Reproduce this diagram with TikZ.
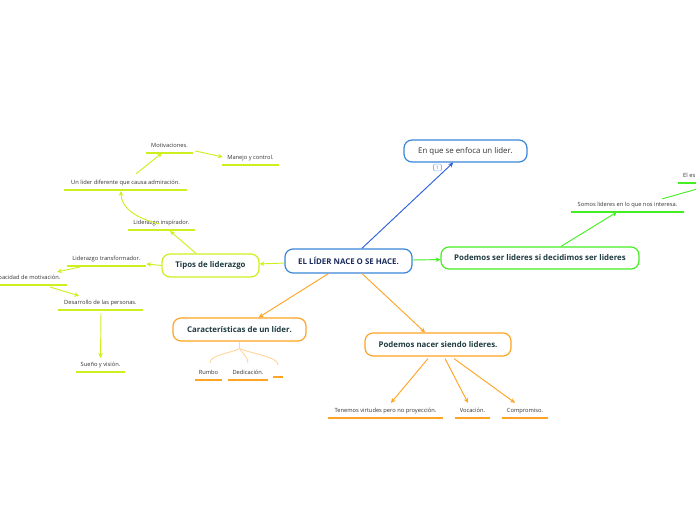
\documentclass[tikz,border=0pt]{standalone}
\usepackage{fontspec}
\setmainfont{Open Sans}
\usetikzlibrary{arrows.meta,calc}
\definecolor{cblue}{HTML}{3A86D8}
\definecolor{cbluearrow}{HTML}{2A5FE0}
\definecolor{cbluelight}{HTML}{8DB8EC}
\definecolor{cgreen}{HTML}{44EE22}
\definecolor{cyellow}{HTML}{CCF01E}
\definecolor{corange}{HTML}{FFA424}
\definecolor{clightorange}{HTML}{FFD69E}
\definecolor{boxtext}{HTML}{1E3B40}
\definecolor{navytext}{HTML}{1B2C5C}
\definecolor{leaftext}{HTML}{333333}
\begin{document}
\begin{tikzpicture}[x=0.75pt,y=-0.75pt,
  box/.style={draw=#1, rounded corners=6pt, line width=0.9pt, fill=white, inner sep=0pt,
    font=\fontsize{5.9}{6.5}\selectfont\bfseries, text=boxtext},
  leaf/.style={anchor=south, inner xsep=0pt, inner ysep=3pt, text height=3.3pt, text depth=0.9pt,
    font=\fontsize{4.3}{5}\selectfont, text=leaftext,
    append after command={(\tikzlastnode.south west) edge[draw=#1, line width=1.1pt] (\tikzlastnode.south east)}},
  conn/.style={draw=#1, line width=0.7pt, -{Stealth[length=3.6pt,width=3.4pt]}},
  plainconn/.style={draw=#1, line width=0.7pt},
  branch/.style={draw=clightorange, line width=0.7pt},
]
\useasboundingbox (0,0) rectangle (696,520);

% main boxes
\node[box=cblue, text=navytext, minimum width=95.25pt, minimum height=18pt] (central) at (348.5,261) {EL LÍDER NACE O SE HACE.};
\node[box=cblue, font=\fontsize{5.9}{6.5}\selectfont, text=leaftext, minimum width=92.25pt, minimum height=16.5pt] (enfoca) at (465.5,151) {En que se enfoca un lider.};
\node[draw=cbluelight, rounded corners=1pt, inner sep=0.5pt, minimum width=6pt, minimum height=5.2pt, font=\fontsize{3.5}{4}\selectfont, text=cblue] (badge) at (437.5,167.5) {1};
\node[box=cgreen, minimum width=148.5pt, minimum height=16.5pt] (podemos) at (540,258) {Podemos ser lideres si decidimos ser lideres};
\node[box=cyellow, minimum width=72.75pt, minimum height=17.25pt] (tipos) at (210.5,265.5) {Tipos de liderazgo};
\node[box=corange, minimum width=99.75pt, minimum height=17.25pt] (caract) at (239.5,329.5) {Características de un líder.};
\node[box=corange, minimum width=109.5pt, minimum height=17.25pt] (nacer) at (438,344.5) {Podemos nacer siendo lideres.};

% leaves
\node[leaf=cyellow, minimum width=35.25pt] (motiv) at (169.5,153) {Motivaciones.};
\node[leaf=cyellow, minimum width=42.75pt] (manejo) at (250.5,165) {Manejo y control.};
\node[leaf=cyellow, minimum width=92.25pt] (unlider) at (125.5,190) {Un lider diferente que causa admiración.};
\node[leaf=cyellow, minimum width=50.25pt] (insp) at (161.5,230) {Liderazgo inspirador.};
\node[leaf=cyellow, minimum width=59.25pt] (trans) at (106.5,266) {Liderazgo transformador.};
\node[leaf=cyellow, minimum width=61.5pt] (capac) at (26,285) {Capacidad de motivación.};
\node[leaf=cyellow, minimum width=63.75pt] (desar) at (100.5,310) {Desarrollo de las personas.};
\node[leaf=cyellow, minimum width=36.75pt] (sueno) at (100.5,372) {Sueño y visión.};
\node[leaf=cgreen, minimum width=84.75pt] (somos) at (627.5,212) {Somos lideres en lo que nos interesa.};
\node[leaf=cgreen, anchor=south west, minimum width=16.5pt, inner xsep=3pt, align=left] (eles) at (678,183) {El es};
\node[leaf=corange, minimum width=20.25pt] (rumbo) at (208.5,380) {Rumbo};
\node[leaf=corange, minimum width=30pt] (dedic) at (248,380) {Dedicación.};
\node[leaf=corange, minimum width=7.5pt] (vacio) at (278,377) {};
\node[leaf=corange, minimum width=86.25pt] (tenemos) at (385.5,418) {Tenemos virtudes pero no proyección.};
\node[leaf=corange, minimum width=26.25pt] (vocac) at (472.5,418) {Vocación.};
\node[leaf=corange, minimum width=34.5pt] (compr) at (525,418) {Compromiso.};

% connectors from central
\draw[conn=cbluearrow] (central) -- (enfoca);
\draw[conn=cgreen] (central) -- (podemos);
\draw[conn=cyellow] (central) -- (tipos);
\draw[conn=corange] (central) -- (caract);
\draw[conn=corange] (central) -- (nacer);

% green branch
\draw[conn=cgreen] ($(podemos.north)+(21,0)$) -- ($(somos.south)+(-10.5,0)$);
\draw[plainconn=cgreen] ($(somos.north east)+(-22,1)$) -- ($(eles.south east)+(0,5)$);

% yellow branch
\draw[conn=cyellow] (tipos.west) -- ($(trans.south east)+(0,-2)$);
\draw[conn=cyellow] ($(trans.south)+(-26.5,1)$) -- ($(capac.north)+(31,1)$);
\draw[conn=cyellow] ($(capac.south)+(24,2)$) -- ($(desar.north)+(-21.5,0)$);
\draw[conn=cyellow] ($(desar.south)+(0.5,3)$) -- (sueno.north);
\draw[conn=cyellow] ($(tipos.north)+(-14.5,0)$) -- ($(insp.south)+(8.5,1)$);
\draw[conn=cyellow] ($(insp.center)+(-2,1)$) .. controls +(-25,-6) and +(0,16) .. ($(unlider.south)+(-4.5,1)$);
\draw[conn=cyellow] ($(unlider.north)+(10.5,-2)$) -- ($(motiv.south)+(-7.5,0)$);
\draw[conn=cyellow] ($(motiv.south east)+(2,-2)$) -- ($(manejo.west)+(1,-1)$);

% characteristics branches
\draw[branch] (caract.south) -- ++(0,7) coordinate (stem);
\draw[branch] (stem) .. controls +(-10,5) and +(0,-8) .. ($(rumbo.north)+(1.5,-3)$);
\draw[branch] (stem) .. controls +(3,5) and +(0,-6) .. ($(dedic.north)+(0,-3)$);
\draw[branch] (stem) .. controls +(12,5) and +(0,-8) .. ($(vacio.north)+(0,2)$);

% podemos nacer branches
\draw[conn=corange] ($(nacer.south)+(-10,2)$) -- ($(tenemos.north)+(5.5,-1)$);
\draw[conn=corange] ($(nacer.south)+(7,2)$) -- ($(vocac.north)+(-4.5,-1)$);
\draw[conn=corange] ($(nacer.south)+(16,2)$) -- ($(compr.north)+(-10,-1)$);
\end{tikzpicture}
\end{document}
